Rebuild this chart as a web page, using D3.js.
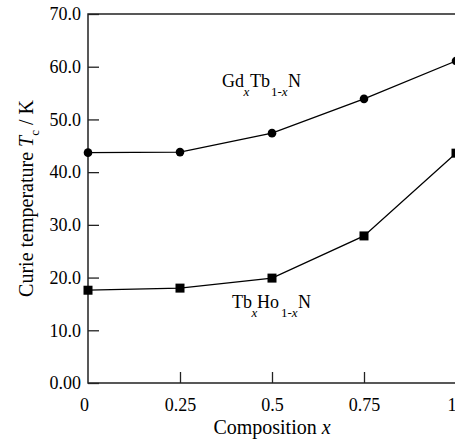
<!DOCTYPE html>
<html>
<head>
<meta charset="utf-8">
<script src="https://cdn.jsdelivr.net/npm/d3@7"></script>
<style>
  body { margin: 0; background: #fff; }
  svg text { font-family: 'Liberation Serif', serif; fill: #000; }
</style>
</head>
<body>
<div id="vis"></div>
<script>
// data
var composition = [0, 0.25, 0.5, 0.75, 1];
var gdTb = [43.7, 43.8, 47.4, 53.9, 61.1];
var tbHo = [17.6, 18.0, 19.9, 27.9, 43.6];
var xTicks = [0, 0.25, 0.5, 0.75, 1];
var xTickLabels = ["0", "0.25", "0.5", "0.75", "1"];
var yTicks = [0, 10, 20, 30, 40, 50, 60, 70];
var yTickLabels = ["0.00", "10.0", "20.0", "30.0", "40.0", "50.0", "60.0", "70.0"];

var width = 455, height = 442;
var margin = { left: 88, right: -1, top: 14, bottom: 59 };
var serif = "'Liberation Serif', serif";

var svg = d3.select('#vis').append('svg')
  .attr('width', width)
  .attr('height', height)
  .attr('font-family', 'Liberation Serif');

var x = d3.scaleLinear().domain([0, 1]).range([margin.left, width - margin.right]);
var y = d3.scaleLinear().domain([0, 70]).range([height - margin.bottom, margin.top]);

// frame (left, top, bottom)
var x0 = x(0), x1 = x(1), y0 = y(0), y1 = y(70);
svg.append('path')
  .attr('d', 'M' + x1 + ',' + y1 + 'H' + x0 + 'V' + y0 + 'H' + x1)
  .attr('fill', 'none')
  .attr('stroke', '#222')
  .attr('stroke-width', 1.5);

// y ticks, inward
var yAxis = d3.axisLeft(y).tickValues(yTicks)
  .tickSize(-11).tickPadding(18)
  .tickFormat(function (d, i) { return yTickLabels[i]; });
var gy = svg.append('g').attr('transform', 'translate(' + x0 + ',0)').call(yAxis)
  .attr('font-family', 'Liberation Serif').attr('font-size', 18);
gy.select('.domain').remove();
gy.selectAll('line').attr('stroke', '#222').attr('stroke-width', 1.3);
gy.selectAll('text').attr('font-family', 'Liberation Serif').attr('dx', '11px');

// x ticks, inward
var xAxis = d3.axisBottom(x).tickValues(xTicks)
  .tickSize(-11).tickPadding(20)
  .tickFormat(function (d, i) { return xTickLabels[i]; });
var gx = svg.append('g').attr('transform', 'translate(0,' + y0 + ')').call(xAxis)
  .attr('font-family', 'Liberation Serif').attr('font-size', 18);
gx.select('.domain').remove();
gx.selectAll('line').attr('stroke', '#222').attr('stroke-width', 1.3)
  .filter(function (d) { return d === 0 || d === 1; }).remove();
gx.selectAll('text').attr('font-family', 'Liberation Serif').attr('dy', '0.45em');
gx.selectAll('text').filter(function (d) { return d === 0; }).attr('dx', '-4px');
gx.selectAll('text').filter(function (d) { return d === 1; }).attr('text-anchor', 'end');

// lines and markers
var line = d3.line()
  .x(function (d, i) { return x(composition[i]); })
  .y(function (d) { return y(d); });

svg.append('path').datum(gdTb)
  .attr('d', line).attr('fill', 'none').attr('stroke', '#000').attr('stroke-width', 1.3);
svg.append('path').datum(tbHo)
  .attr('d', line).attr('fill', 'none').attr('stroke', '#000').attr('stroke-width', 1.3);

svg.selectAll('.dot').data(gdTb).enter().append('circle')
  .attr('class', 'dot')
  .attr('cx', function (d, i) { return x(composition[i]); })
  .attr('cy', function (d) { return y(d); })
  .attr('r', 4.3)
  .attr('fill', '#000');

svg.selectAll('.sq').data(tbHo).enter().append('rect')
  .attr('class', 'sq')
  .attr('x', function (d, i) { return x(composition[i]) - 4.5; })
  .attr('y', function (d) { return y(d) - 4.5; })
  .attr('width', 9).attr('height', 9)
  .attr('fill', '#000');

// series labels with subscripts: [text, x, isSub]
function formula(py, parts) {
  var g = svg.append('g');
  parts.forEach(function (p) {
    var t = g.append('text')
      .attr('x', p[1])
      .attr('y', p[2] ? py + 9 : py)
      .attr('font-size', p[2] ? 13 : 18);
    if (p[0] === 'x') {
      t.attr('font-style', 'italic').text('x');
    } else if (p[0] === '1-x') {
      t.append('tspan').text('1-');
      t.append('tspan').attr('font-style', 'italic').text('x');
    } else {
      t.text(p[0]);
    }
  });
}

formula(87, [['Gd', 222, false], ['x', 243.5, true], ['Tb', 250, false],
  ['1-x', 271, true], ['N', 288, false]]);
formula(308, [['Tb', 232, false], ['x', 251.5, true], ['Ho', 257, false],
  ['1-x', 281, true], ['N', 298, false]]);

// axis titles
var xt = svg.append('text')
  .attr('x', (x0 + x1) / 2)
  .attr('y', 434)
  .attr('text-anchor', 'middle')
  .attr('font-size', 20);
xt.append('tspan').text('Composition ');
xt.append('tspan').text('x').attr('font-style', 'italic');

var yt = svg.append('text')
  .attr('transform', 'translate(33,' + ((y0 + y1) / 2) + ') rotate(-90)')
  .attr('text-anchor', 'middle')
  .attr('font-size', 20);
yt.append('tspan').text('Curie temperature ');
yt.append('tspan').text('T').attr('font-style', 'italic');
yt.append('tspan').text('c').attr('font-size', 13).attr('dy', 6);
yt.append('tspan').text(' / K').attr('dy', -6);
</script>
</body>
</html>
